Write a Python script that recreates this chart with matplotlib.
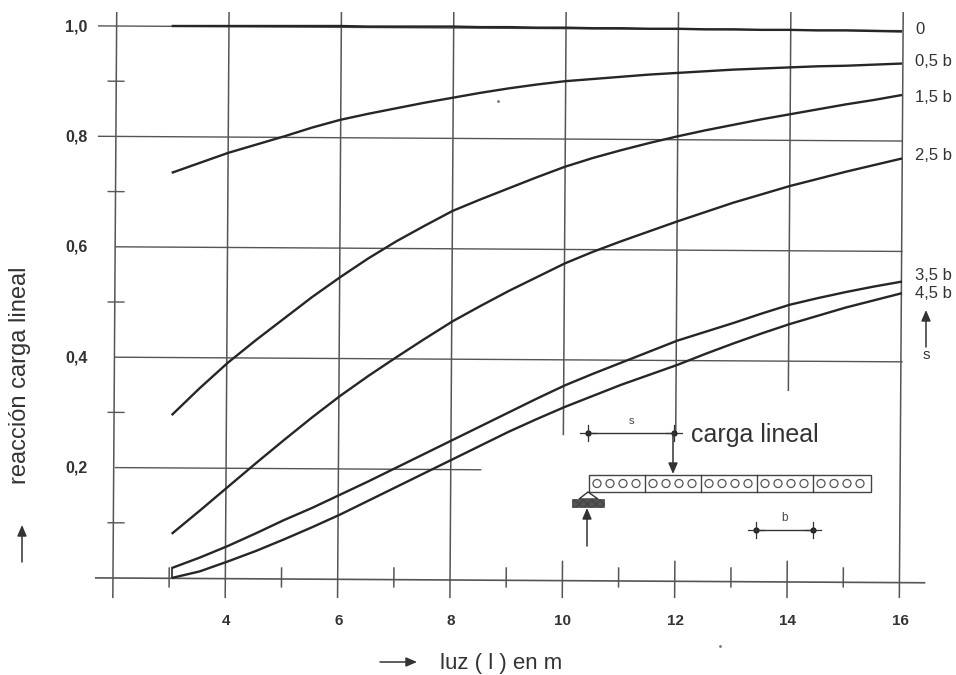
import matplotlib
matplotlib.use('Agg')
import matplotlib.pyplot as plt
from matplotlib.patches import Circle, Rectangle, Polygon
from matplotlib.transforms import ScaledTranslation

plt.rcParams['font.family'] = ['Liberation Sans', 'DejaVu Sans']

# datos, cada 0,5 m
luz = [3, 3.5, 4, 4.5, 5, 5.5, 6, 6.5, 7, 7.5, 8, 8.5, 9, 9.5, 10, 10.5, 11, 11.5, 12, 12.5, 13, 13.5, 14, 14.5, 15, 15.5, 16]
s_0 = [1.0, 1.0, 1.0, 1.0, 1.0, 1.0, 1.0, 0.999, 0.999, 0.999, 0.999, 0.998, 0.998, 0.997, 0.997, 0.996, 0.996, 0.995,
       0.995, 0.994, 0.994, 0.993, 0.993, 0.992, 0.992, 0.991, 0.99]
s_05 = [.734, .752, .77, .785, .80, .816, .83, .841, .851, .861, .87, .879, .887, .894, .90, .904, .908, .912, .915,
        .918, .921, .923, .925, .927, .928, .93, .932]
s_15 = [.295, .344, .39, .431, .47, .509, .545, .579, .61, .638, .665, .686, .706, .726, .745, .761, .775, .788, .80,
        .811, .821, .831, .84, .849, .858, .866, .875]
s_25 = [.08, .122, .165, .208, .25, .291, .33, .366, .40, .433, .465, .493, .52, .545, .57, .591, .61, .628, .646,
        .663, .68, .695, .71, .723, .736, .748, .76]
s_35 = [.018, .037, .058, .081, .105, .127, .151, .175, .20, .225, .25, .275, .30, .325, .349, .37, .39, .41, .43,
        .446, .462, .479, .495, .507, .518, .528, .537]
s_45 = [0, .012, .03, .049, .07, .092, .115, .14, .165, .19, .215, .24, .265, .288, .31, .33, .35, .368, .386,
        .406, .425, .443, .46, .475, .49, .503, .516]
curvas = [s_0, s_05, s_15, s_25, s_35, s_45]
etiquetas = ['0', '0,5 b', '1,5 b', '2,5 b', '3,5 b', '4,5 b']

x_ticks = [4, 6, 8, 10, 12, 14, 16]
x_labels = ['4', '6', '8', '10', '12', '14', '16']
y_ticks = [0.2, 0.4, 0.6, 0.8, 1.0]
y_labels = ['0,2', '0,4', '0,6', '0,8', '1,0']

W, H = 956, 675
GRIS = '#555555'
NEGRO = '#262626'
TEXTO = '#333333'

fig = plt.figure(figsize=(W / 100, H / 100), dpi=100)
# ejes: x=2 en px 115.5, x=16 en px 902; y=0 en px 578, y=1 en px 26
ax = fig.add_axes([115.5 / W, 1 - 578 / H, (902 - 115.5) / W, (578 - 26) / H])
ax.set_xlim(2, 16)
ax.set_ylim(0, 1)
for sp in ax.spines.values():
    sp.set_visible(False)
ax.patch.set_alpha(0)
ax.set_xticks(x_ticks, x_labels, fontsize=11, fontweight='bold', color=TEXTO)
ax.set_yticks(y_ticks, y_labels, fontsize=11.5, fontweight='bold', color=TEXTO)
ax.tick_params(length=0)
ax.tick_params(axis='x', pad=26)
ax.tick_params(axis='y', pad=20)
for t in ax.get_xticklabels():
    t.set_transform(t.get_transform() + ScaledTranslation(-2 / 100, 0, fig.dpi_scale_trans))
for t in ax.get_yticklabels():
    t.set_transform(t.get_transform() + ScaledTranslation(0, 1 / 100, fig.dpi_scale_trans))


def inclina(x):
    # el escaneo esta algo girado
    return -0.0006 * (x - 2)


def horiz(y, x0, x1, lw=1.0):
    ax.plot([x0, x1], [y + inclina(x0), y + inclina(x1)], color=GRIS, lw=lw, clip_on=False, zorder=1)


def vert(x, y0, y1, lw=1.1):
    ax.plot([x + 0.02 - 0.065 * (1 - y0), x + 0.02 - 0.065 * (1 - y1)], [y0, y1], color=GRIS, lw=lw,
            clip_on=False, zorder=1)


# reticula
horiz(1.0, 1.7, 16)
horiz(0.8, 1.7, 16)
horiz(0.6, 2, 16)
horiz(0.4, 2, 16)
horiz(0.2, 2, 8.5)
horiz(0.0, 1.65, 16.4, lw=1.2)
for y in [0.1, 0.3, 0.5, 0.7, 0.9]:
    horiz(y, 1.87, 2.15)
for x in [2, 4, 6, 8, 16]:
    vert(x, -0.035, 1.024)
vert(10, 0.26, 1.024)
vert(12, 0.26, 1.024)
vert(14, 0.34, 1.024)
for x in [10, 12, 14]:
    vert(x, -0.035, 0.03)
for x in [3, 5, 7, 9, 11, 13, 15]:
    vert(x, -0.016, 0.018)

# curvas
for serie in curvas:
    ax.plot(luz, serie, color=NEGRO, lw=1.7, clip_on=False, zorder=3, solid_capstyle='butt')
ax.plot([3, 3], [0.0, s_35[0]], color=NEGRO, lw=1.2, zorder=3)

# capa en pixeles para textos sueltos y el esquema
pa = fig.add_axes([0, 0, 1, 1])
pa.set_xlim(0, W)
pa.set_ylim(H, 0)
pa.axis('off')
pa.patch.set_alpha(0)

etq_y = [30, 62, 98, 155, 275, 293]
for y, t in zip(etq_y, etiquetas):
    pa.text(915, y, t, fontsize=12, color=TEXTO, va='center', ha='left')
pa.text(926, 355, 's', fontsize=11, color=TEXTO, va='center', ha='center')
pa.text(20, 375, 'reacción carga lineal', fontsize=17, color=TEXTO, rotation=90, va='center', ha='center')
pa.text(440, 664, 'luz ( l ) en m', fontsize=16, color=TEXTO, va='center', ha='left')
pa.text(691, 435, 'carga lineal', fontsize=18, color=TEXTO, va='center', ha='left')
pa.text(631, 421, 's', fontsize=8, color='#444444', va='center', ha='center')
pa.text(785, 518, 'b', fontsize=8.5, color='#444444', va='center', ha='center')


def flecha(x0, y0, x1, y1):
    pa.annotate('', xy=(x1, y1), xytext=(x0, y0),
                arrowprops=dict(arrowstyle='-|>,head_width=0.28,head_length=0.65', color=TEXTO, lw=1.1,
                                shrinkA=0, shrinkB=0))


flecha(22, 562, 22, 525)
flecha(380, 662, 417, 662)
flecha(926, 347, 926, 310)
flecha(673, 433, 673, 474)
flecha(587, 546, 587, 508)

# cotas s y b
for x0, x1, y in [(588, 674, 433), (756, 813, 530)]:
    pa.plot([x0, x1], [y, y], color=TEXTO, lw=1)
    pa.plot([x0, x1], [y, y], 'o', color='#222222', ms=4.5, mew=0)
    for x in (x0, x1):
        pa.plot([x - 8, x + 8], [y, y], color=TEXTO, lw=0.9)
        pa.plot([x, x], [y - 8, y + 8], color=TEXTO, lw=0.9)

# vigueta con sus bovedillas
pa.add_patch(Rectangle((589, 475), 282, 17, fc='white', ec='#444444', lw=1, zorder=4))
for i in range(1, 5):
    pa.plot([589 + 56 * i, 589 + 56 * i], [475, 492], color='#444444', lw=1, zorder=5)
for i in range(5):
    for j in range(4):
        pa.add_patch(Circle((597 + 56 * i + 13 * j, 483.5), 4, fc='white', ec='#555555', lw=0.9, zorder=5))

# apoyo
pa.add_patch(Polygon([(588, 492), (579, 499), (598, 499)], fc='white', ec=TEXTO, lw=1, zorder=5))
pa.add_patch(Rectangle((572, 499), 32, 8, fc='#555555', ec='#444444', lw=0.5, hatch='xxxx', zorder=5))

# motas del escaneo
pa.plot([498, 720], [101, 646], '.', color='#777777', ms=2)

fig.savefig('out.png', dpi=100)
